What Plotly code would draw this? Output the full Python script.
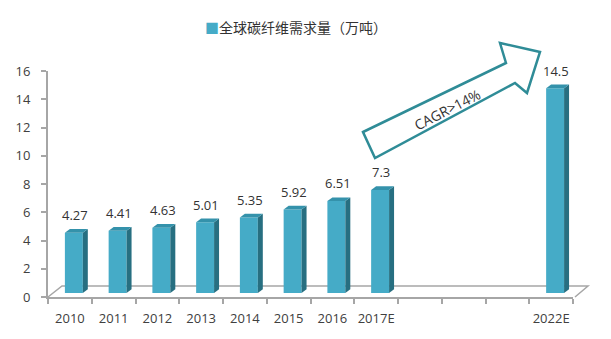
import plotly.graph_objects as go

categories = ["2010", "2011", "2012", "2013", "2014", "2015", "2016", "2017E", " ", "  ", "   ", "2022E"]
demand = [4.27, 4.41, 4.63, 5.01, 5.35, 5.92, 6.51, 7.3, None, None, None, 14.5]
value_labels = ["4.27", "4.41", "4.63", "5.01", "5.35", "5.92", "6.51", "7.3", "", "", "", "14.5"]
y_ticks = [0, 2, 4, 6, 8, 10, 12, 14, 16]
series_name = "全球碳纤维需求量（万吨）"
cagr_text = "CAGR>14%"

W, H = 611, 339
L, R, T, B = 48, 38, 71, 42
pw, ph = W - L - R, H - T - B

FRONT = "#45ABC7"
SIDE = "#276F81"
TOP = "#3492AB"
AXIS = "#A6A6A6"

floor_base = 0.28      # bars stand slightly behind the front edge of the floor
dx_side = 0.114        # depth offset in category units
dy_side = 0.26         # depth offset in value units
bar_off = -0.114
bar_w = 0.41

fig = go.Figure()
fig.add_trace(go.Bar(
    x=categories, y=demand, base=floor_base, name=series_name,
    marker=dict(color=FRONT, line=dict(width=0)),
    width=bar_w, offset=bar_off, showlegend=False,
))

shapes = []
def px(x):
    return (x - L) / pw
def py(y):
    return (H - B - y) / ph

# floor (paper-referenced decoration)
shapes.append(dict(type="path", xref="paper", yref="paper",
                   path=f"M{px(48)},{py(297)} L{px(62)},{py(286)} L{px(588)},{py(286)} L{px(575)},{py(297)}",
                   line=dict(color=AXIS, width=1.5), fillcolor="rgba(0,0,0,0)", layer="below"))

annotations = []
for i, v in enumerate(demand):
    if v is None:
        continue
    x0 = i + bar_off
    x1 = i + bar_off + bar_w
    y0 = floor_base
    y1 = floor_base + v
    # side face
    shapes.append(dict(type="path", xref="x", yref="y", line=dict(width=0), fillcolor=SIDE,
                       path=f"M{x1},{y0} L{x1+dx_side},{y0+dy_side} L{x1+dx_side},{y1+dy_side} L{x1},{y1} Z"))
    # top face
    shapes.append(dict(type="path", xref="x", yref="y", line=dict(width=0), fillcolor=TOP,
                       path=f"M{x0},{y1} L{x1},{y1} L{x1+dx_side},{y1+dy_side} L{x0+dx_side},{y1+dy_side} Z"))
    annotations.append(dict(x=i + bar_off + bar_w / 2 + 0.03, y=y1 + dy_side, xref="x", yref="y",
                            text=value_labels[i], showarrow=False, xanchor="center", yanchor="bottom", yshift=3,
                            font=dict(size=13, color="#333333", family="Open Sans, DejaVu Sans")))

# CAGR arrow (decorative, paper coords)
pts = [(363, 132), (506, 63), (500, 43), (540, 52), (527, 93), (515, 83), (375, 158)]
path = "M" + " L".join(f"{px(a)},{py(b)}" for a, b in pts) + " Z"
shapes.append(dict(type="path", xref="paper", yref="paper", path=path,
                   line=dict(color="#2F8C97", width=2.5), fillcolor="white"))
annotations.append(dict(x=px(447), y=py(109), xref="paper", yref="paper", text=cagr_text,
                        showarrow=False, textangle=-27, xanchor="center", yanchor="middle",
                        font=dict(size=14, color="#333333", family="Open Sans, DejaVu Sans")))

# legend key (series name with colour swatch)
annotations.append(dict(x=px(296), y=py(27), xref="paper", yref="paper",
                        text=f"<span style='color:{FRONT}'>■</span>{series_name}",
                        showarrow=False, xanchor="center", yanchor="middle",
                        font=dict(size=14, color="#333333", family="Noto Sans CJK SC")))

fig.update_layout(
    width=W, height=H,
    margin=dict(l=L, r=R, t=T, b=B, pad=0, autoexpand=False),
    paper_bgcolor="white", plot_bgcolor="white",
    shapes=shapes, annotations=annotations,
    showlegend=False,
    bargap=0.5,
    xaxis=dict(type="category", categoryorder="array", categoryarray=categories,
               range=[-0.5, len(categories) - 0.5], automargin=False, tickangle=0,
               showline=True, linecolor=AXIS, linewidth=2,
               ticks="outside", ticklen=5, tickcolor=AXIS, tickwidth=1.5,
               tickson="boundaries", showgrid=False, zeroline=False,
               ticklabelstandoff=8,
               tickfont=dict(size=13, color="#404040", family="Open Sans, DejaVu Sans")),
    yaxis=dict(range=[0, 16], tickvals=y_ticks, showline=True, linecolor=AXIS, linewidth=2,
               automargin=False,
               ticks="outside", ticklen=5, tickcolor=AXIS, tickwidth=1.5,
               showgrid=False, zeroline=False, ticklabelstandoff=8,
               tickfont=dict(size=13, color="#404040", family="Open Sans, DejaVu Sans")),
    font=dict(family="Open Sans, DejaVu Sans"),
)

fig.write_html("out.html")
